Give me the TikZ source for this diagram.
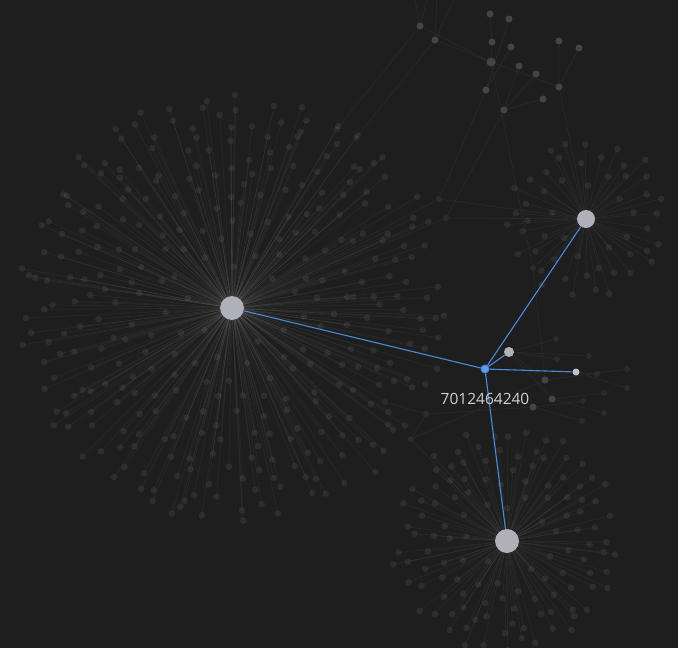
\documentclass[tikz,border=0pt]{standalone}
\usepackage{fontspec}
\setmainfont{Open Sans}
\definecolor{bg}{HTML}{1E1E1E}
\definecolor{hub}{HTML}{B0B0BA}
\definecolor{sel}{HTML}{4A89DC}
\definecolor{selfill}{HTML}{5C9CEA}
\definecolor{dim}{HTML}{444444}
\tikzset{
	spoke/.style={white,opacity=.05,line width=.6pt},
	leaf/.style={white,opacity=.065},
	web/.style={white,opacity=.055,line width=.6pt},
	hubnode/.style={circle,fill=hub,inner sep=0pt,minimum size=#1},
	dimnode/.style={circle,fill=dim,inner sep=0pt,minimum size=#1},
	faint/.style={circle,fill=white,fill opacity=.06,inner sep=0pt,minimum size=6pt},
	link/.style={sel,line width=1.1pt},
}
\begin{document}
\begin{tikzpicture}[x=1pt,y=-1pt]
	\fill[bg](0,0)rectangle(678,648);
	\useasboundingbox(0,0)rectangle(678,648);
	\clip(0,0)rectangle(678,648);
	% the three big hubs
	\node[hubnode=24pt](hubA) at (232,308){};
	\node[hubnode=18pt](hubB) at (586,219){};
	\node[hubnode=24pt](hubC) at (507,541){};
	\pgfmathsetseed{4240}
	\foreach \i in {1,...,330}{
		\pgfmathsetmacro\g{\i*0.381966}
		\pgfmathsetmacro\a{360*(\g-floor(\g))+8*(rnd-.5)}
		\pgfmathsetmacro\r{26+190*sqrt(\i/330)+8*(rnd-.5)}
		\path(hubA.center)++(\a:\r)coordinate(a\i);
		\draw[spoke](hubA)--(a\i);
		\fill[leaf](a\i)circle(3.3);
	}
	\foreach \i in {1,...,52}{
		\pgfmathsetmacro\g{\i*0.381966}
		\pgfmathsetmacro\a{360*(\g-floor(\g))+10*(rnd-.5)}
		\pgfmathsetmacro\r{20+62*sqrt(\i/52)+6*(rnd-.5)}
		\path(hubB.center)++(\a:\r)coordinate(b\i);
		\draw[spoke](hubB)--(b\i);
		\fill[leaf](b\i)circle(3.3);
	}
	\foreach \i in {1,...,120}{
		\pgfmathsetmacro\g{\i*0.381966}
		\pgfmathsetmacro\a{360*(\g-floor(\g))+10*(rnd-.5)}
		\pgfmathsetmacro\r{22+92*sqrt(\i/120)+6*(rnd-.5)}
		\path(hubC.center)++(\a:\r)coordinate(c\i);
		\draw[spoke](hubC)--(c\i);
		\fill[leaf](c\i)circle(3.3);
	}
	% top cluster
	\foreach \n/\x/\y in {t1/420/26,t2/435/40,t3/490/14,t4/509/19,t5/492/42,t6/511/47,
		t8/519/66,t9/536/74,t10/559/41,t11/579/48,t12/559/87,t13/486/90,t14/504/110,t15/543/99}
	\node[dimnode=7pt](\n) at (\x,\y){};
	\node[dimnode=9pt](t7) at (491,62){};
	\node[faint](m1) at (439,199){};
	\node[faint](m2) at (446,218){};
	\node[faint](m5) at (533,268){};
	\node[faint](la1) at (337,129){};
	\node[faint](la2) at (356,138){};
	\coordinate(e1) at (414,-5);
	\coordinate(e2) at (428,-5);
	\coordinate(e3) at (437,-5);
	\coordinate(e4) at (456,-5);
	\draw[web](t1)--(e1) (t1)--(e2) (t2)--(e3) (t2)--(e4)
	(t1)--(t7) (t2)--(t7) (t7)--(t12) (t3)--(t5)--(t7) (t4)--(t13) (t6)--(t13)
	(t14)--(t8) (t14)--(t9) (t14)--(t15) (t12)--(t10) (t12)--(t11)
	(t7)--(m5) (t1)--(la1) (t2)--(la2) (la1)--(hubA) (la2)--(hubA)
	(m1)--(t13) (m2)--(t14) (m1)--(hubB) (m2)--(hubB) (m1)--(hubA) (m2)--(hubA)
	(m5)--(hubB) (t12)--(hubB);
	% around the selected node
	\node[dimnode=7pt](d1) at (545,380){};
	\node[dimnode=7pt](d2) at (552,399){};
	\node[dimnode=7pt](d3) at (533,407){};
	\foreach \n/\x/\y in {f1/556/339,f2/557/359,f3/589/356,f4/597/374,f5/627/369,f6/627/388,
		f7/604/393,f8/583/401,f9/604/413,f10/582/421,f11/426/414,f12/385/402,f13/411/439}
	\node[faint](\n) at (\x,\y){};
	\node[hubnode=10pt](nD) at (509,352){};
	\node[circle,fill=hub!80!white,inner sep=0pt,minimum size=7pt](nE) at (576,372){};
	\draw[web](nD)--(f1) (nD)--(f3) (nD)--(d1) (nD)--(f2) (nD)--(d2)
	(d1)--(f5) (nE)--(f4) (nE)--(f6) (d2)--(f7) (d2)--(f9) (d3)--(f8) (d3)--(f10)
	(d3)--(f11) (f11)--(f12) (f11)--(f13) (f13)--(hubC) (d1)--(f13) (m5)--(d1) (f12)--(hubA);
	\node[circle,fill=selfill,draw=sel,line width=.8pt,inner sep=0pt,minimum size=8pt](n7012) at (485,369){};
	\draw[link](n7012)--(hubA) (n7012)--(hubB) (n7012)--(hubC) (n7012)--(nD) (n7012)--(nE);
	\node[text=white!82!black,font=\fontsize{15.5}{18}\selectfont] at (485,399){7012464240};
\end{tikzpicture}
\end{document}
